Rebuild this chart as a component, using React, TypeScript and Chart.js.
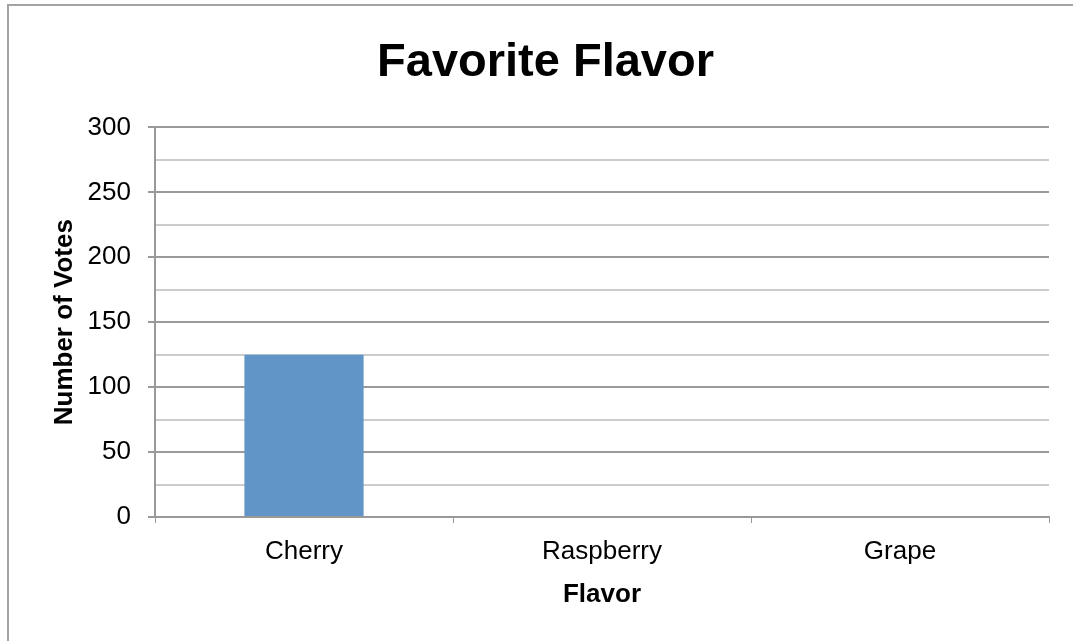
import React, { useEffect, useRef } from "react";
import { Chart, registerables } from "chart.js";

Chart.register(...registerables);

const categories = ["Cherry", "Raspberry", "Grape"];
const votes = [125, 0, 0];
const yMin = 0;
const yMax = 300;
const yStep = 25;
const labelStep = 50;
const chartTitle = "Favorite Flavor";
const xTitle = "Flavor";
const yTitle = "Number of Votes";

const FONT = "'Liberation Sans', Arial, sans-serif";

export default function App() {
  const ref = useRef<HTMLCanvasElement | null>(null);

  useEffect(() => {
    if (!ref.current) return;
    const chart = new Chart(ref.current, {
      type: "bar",
      data: {
        labels: categories,
        datasets: [
          {
            data: votes,
            backgroundColor: "#6194C7",
            borderWidth: 0,
            categoryPercentage: 1,
            barPercentage: 0.4,
          },
        ],
      },
      options: {
        responsive: false,
        animation: false,
        devicePixelRatio: 1,
        layout: { padding: { left: 42, right: 24, top: 0, bottom: 0 } },
        plugins: {
          legend: { display: false },
          tooltip: { enabled: false },
          title: {
            display: true,
            text: chartTitle,
            color: "#000",
            font: { family: FONT, size: 47, weight: "bold" },
            padding: { top: 35, bottom: 36 },
          },
        },
        scales: {
          x: {
            offset: true,
            grid: {
              offset: true,
              drawOnChartArea: false,
              drawTicks: true,
              tickLength: 6,
              tickColor: "#999999",
              color: "#999999",
            },
            border: { color: "#999999", width: 2 },
            ticks: {
              color: "#000",
              font: { family: FONT, size: 26 },
              padding: 13,
              maxRotation: 0,
            },
            title: {
              display: true,
              text: xTitle,
              color: "#000",
              font: { family: FONT, size: 26, weight: "bold" },
              padding: { top: 0, bottom: 31 },
            },
            afterFit: (scale: any) => {
              scale.height = 124;
            },
          },
          y: {
            min: yMin,
            max: yMax,
            ticks: {
              stepSize: yStep,
              autoSkip: false,
              color: "#000",
              font: { family: FONT, size: 26 },
              padding: 17,
              callback: (v: any) => (Number(v) % labelStep === 0 ? String(v) : ""),
            },
            grid: {
              color: (ctx: any) =>
                ctx.tick && ctx.tick.value % labelStep === 0 ? "#9a9a9a" : "#cccccc",
              lineWidth: 2,
              tickLength: 7,
              tickColor: (ctx: any) =>
                ctx.tick && ctx.tick.value % labelStep === 0 ? "#9a9a9a" : "rgba(0,0,0,0)",
            },
            border: { color: "#999999", width: 2 },
            title: {
              display: true,
              text: yTitle,
              color: "#000",
              font: { family: FONT, size: 26, weight: "bold" },
              padding: { top: 7, bottom: 0 },
            },
            afterFit: (scale: any) => {
              scale.width = 113;
            },
          },
        },
      },
    });
    return () => chart.destroy();
  }, []);

  return (
    <div
      style={{
        position: "absolute",
        left: 0,
        top: 0,
        width: 1073,
        height: 641,
        overflow: "hidden",
        background: "#fff",
      }}
    >
      <div
        style={{
          position: "absolute",
          left: 7,
          top: 4,
          width: 1100,
          height: 700,
          border: "2px solid #a3a3a3",
          boxSizing: "border-box",
        }}
      />
      <canvas
        ref={ref}
        width={1073}
        height={641}
        style={{ position: "absolute", left: 0, top: 0 }}
      />
    </div>
  );
}
